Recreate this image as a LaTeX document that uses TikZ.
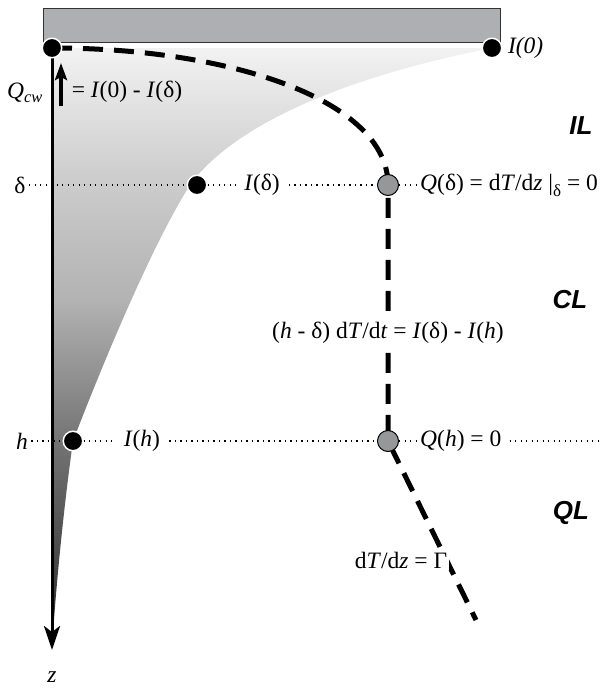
\documentclass[tikz,border=0pt]{standalone}
\usepackage{fontspec}
\setmainfont{Liberation Serif}
\newfontfamily\zonefont{Liberation Sans}
\usepackage{xcolor}
\usetikzlibrary{arrows.meta, positioning, calc}

\definecolor{slabgray}{RGB}{174,175,179}
\definecolor{zerogray}{RGB}{150,151,153}
\pgfdeclareverticalshading{lightfall}{100bp}{color(0bp)=(black!85); color(25bp)=(black!85); color(29bp)=(black!78); color(42bp)=(black!55); color(54bp)=(black!30); color(64bp)=(black!20); color(75bp)=(black!5); color(100bp)=(black!5)}

\begin{document}
\begin{tikzpicture}[
    x=1pt, y=-1pt,
    font=\fontsize{23.5}{28}\selectfont,
    flux/.style={circle, fill=black, draw=white, line width=1.5pt, minimum size=19.5pt, inner sep=0pt},
    zero/.style={circle, fill=zerogray, draw=black, line width=1pt, minimum size=21pt, inner sep=0pt},
    level/.style={draw, dash pattern=on 1.3pt off 4.2pt, line width=1.3pt},
    profile/.style={draw, line width=5pt, dash pattern=on 20pt off 11pt},
    zone/.style={font=\zonefont\bfseries\itshape\fontsize{26}{30}\selectfont},
    gap/.style={inner sep=9pt},
    cover/.style={fill=white, inner sep=2pt},
]
\useasboundingbox (0,0) rectangle (602,688);

\coordinate (c0) at (52,48);
\coordinate (dq) at (388,185);
\coordinate (hq) at (388,441);
\coordinate (pend) at (476,620);
\coordinate (zend) at (52,650);
\coordinate (qlow) at (61,106);
\coordinate (qhigh) at (61,63);
\coordinate (hend) at (602,441);

% absorbed flux
\shade[shading=lightfall] (c0) -- (492,48) .. controls (330,80) and (230,130) .. (190,185)
    .. controls (155,240) and (108,350) .. (73,441)
    .. controls (62,520) and (55,600) .. (52,648) -- cycle;
\node [draw=black!80, line width=1pt, fill=slabgray, minimum width=457pt, minimum height=34pt, anchor=north west, inner sep=0pt] (slab) at (43,8) {};

\draw [line width=3pt, -{Stealth[length=24pt, width=16pt, inset=6pt]}] (c0) -- (zend);
\draw [line width=3.5pt, -{Stealth[length=17pt, width=12pt, inset=3pt]}] (qlow) -- (qhigh);
\path [profile] (c0) .. controls (230,48) and (388,100) .. (dq) -- (hq) -- (pend);

\node [flux] (top) at (c0) {};
\node [flux] (topI) at (492,48) {};
\node [flux] (deltaI) at (197,185) {};
\node [flux] (hI) at (73,441) {};
\node [zero] (deltaQ) at (dq) {};
\node [zero] (hQ) at (hq) {};

\node [right=2pt of topI] (lab0) {\textit{I(0)}};
\node (lqcw) at (25,93) {\textit{Q}\textsubscript{\textit{cw}}};
\node (lqeq) at (127,92) {= \textit{I}(0) - \textit{I}(δ)};
\node (dlev) at (20,185) {δ};
\node (hlev) at (22,441) {\textit{h}};
\node [gap] (ldelta) at (262,185) {\textit{I}(δ)};
\node [gap] (lh) at (142,441) {\textit{I}(\textit{h})};
\node [anchor=west, inner sep=2pt] (lQd) at (418,185) {\textit{Q}(δ) = d\textit{T}/d\textit{z} |\raisebox{-6pt}{\fontsize{17}{17}\selectfont δ} = 0};
\node [anchor=west, inner sep=2pt] (lQh) at (418,441) {\textit{Q}(\textit{h}) = 0};
\node [cover] (lcl) at (388,333) {(\textit{h} - δ) d\textit{T}/d\textit{t} = \textit{I}(δ) - \textit{I}(\textit{h})};
\node [cover] (lql) at (401,560) {d\textit{T}/d\textit{z} = Γ};
\node (zlab) at (52,677) {\textit{z}};

\node [zone] (il) at (581,126) {IL};
\node [zone] (cl) at (570,300) {CL};
\node [zone] (ql) at (571,513) {QL};

\path [level] (dlev) -- (deltaI);
\path [level] (deltaI) -- (ldelta);
\path [level] (ldelta) -- (deltaQ);
\path [level] (deltaQ) -- (lQd);
\path [level] (hlev) -- (hI);
\path [level] (hI) -- (lh);
\path [level] (lh) -- (hQ);
\path [level] (hQ) -- (lQh);
\path [level, shorten <=6pt] (lQh) -- (hend);
\end{tikzpicture}
\end{document}
